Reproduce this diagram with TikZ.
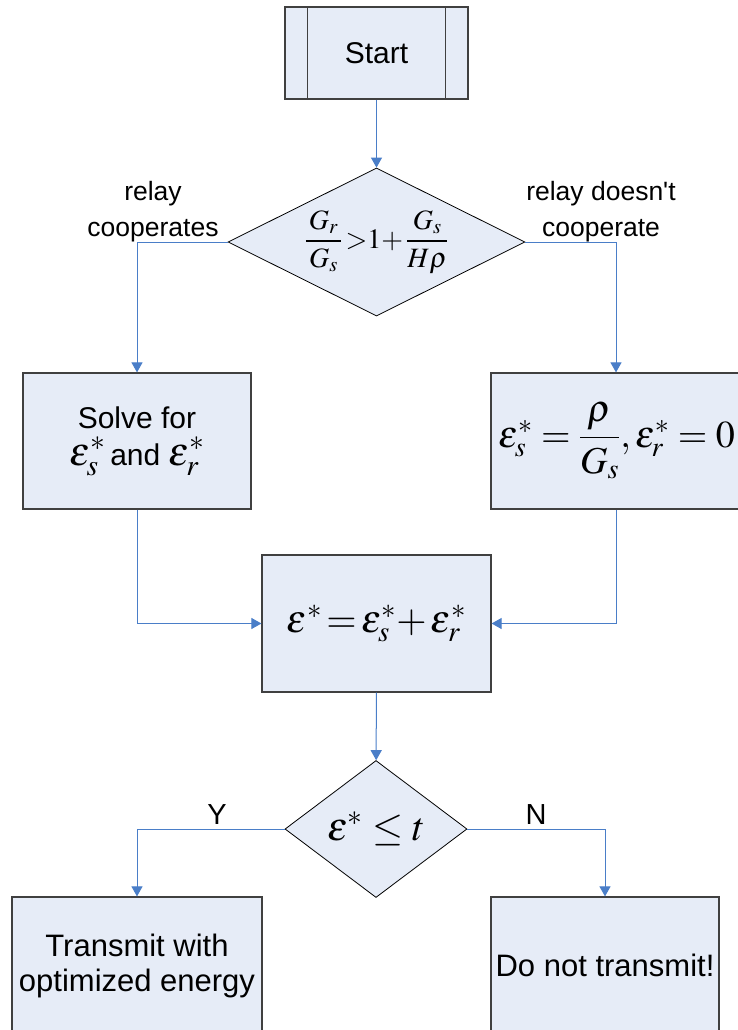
\documentclass[tikz,border=0pt]{standalone}
\usepackage{amsmath}
\usepackage{mathptmx}
\usepackage[no-math]{fontspec}
\setmainfont{Liberation Sans}[Ligatures=TeXOff]
\usetikzlibrary{shapes.geometric,arrows.meta}

\definecolor{boxfill}{HTML}{E6ECF7}
\definecolor{linkblue}{HTML}{4A7EC8}
\definecolor{boxline}{HTML}{404040}

\begin{document}
\begin{tikzpicture}[x=1pt,y=-1pt,
  box/.style={rectangle,draw=boxline,line width=1.2pt,fill=boxfill,inner sep=0pt,
    minimum width=228pt,minimum height=136pt,align=center,font=\fontsize{30}{35}\selectfont},
  test/.style={diamond,aspect=2,draw=black,line width=0.8pt,fill=boxfill,inner sep=0pt},
  link/.style={draw=linkblue,line width=1pt,-{Triangle[length=10pt,width=11pt]}},
  lbl/.style={font=\fontsize{26.5}{36}\selectfont}]
\useasboundingbox (0,0) rectangle (738,1030);
\clip (0,0) rectangle (738,1030);

% start and first test
\node[box,minimum width=183pt,minimum height=92pt] (start) at (376.5,53) {Start};
\draw[boxline,line width=1.2pt] ([xshift=23pt]start.north west) -- ([xshift=23pt]start.south west);
\draw[boxline,line width=1.2pt] ([xshift=-23pt]start.north east) -- ([xshift=-23pt]start.south east);
\node[test,minimum width=297pt,minimum height=148pt,font=\fontsize{28}{32}\selectfont] (coop) at (376.5,242)
  {$\dfrac{\,G_r\,}{\,G_s\,}\,{>}1{+}\,\dfrac{\,G_s\,}{H\rho}$};
\node[lbl,align=center] (yescoop) at (153,212) {relay\\cooperates};
\node[lbl,align=center] (nocoop) at (601,212) {relay doesn't\\cooperate};

% the two cases
\node[box] (solve) at (137,441) {Solve for\\[2pt]{\fontsize{40}{40}\selectfont$\varepsilon_s^*$}\,and {\fontsize{40}{40}\selectfont$\varepsilon_r^*$}};
\node[box,minimum width=250pt] (direct) at (616,441) {};
\node[anchor=west,inner sep=0pt,font=\fontsize{38}{46}\selectfont] (directeq) at (498,441)
  {$\varepsilon_s^*=\dfrac{\rho}{G_s},\varepsilon_r^*=0$};
\node[box,minimum width=229pt,minimum height=137pt,font=\fontsize{39}{48}\selectfont] (total) at (376.5,623.5)
  {$\varepsilon^*\,{=}\,\varepsilon_s^*{+}\,\varepsilon_r^*$};

% second test
\node[test,minimum width=182pt,minimum height=137pt,font=\fontsize{40}{48}\selectfont] (budget) at (376,829)
  {$\varepsilon^*\le t$};
\node[lbl,font=\fontsize{29}{35}\selectfont] (yes) at (217,815) {Y};
\node[lbl,font=\fontsize{29}{35}\selectfont] (no) at (536,815) {N};
\node[box,minimum width=250pt,minimum height=137pt,font=\fontsize{31}{35}\selectfont] (send) at (137,965.5) {Transmit with\\optimized energy};
\node[box,minimum height=137pt,font=\fontsize{31}{35}\selectfont] (nosend) at (605,965.5) {Do not transmit!};

% connectors
\draw[link] (start) -- (coop);
\draw[link] (coop.west) -| (solve.north);
\draw[link] (coop.east) -| (direct.north);
\draw[link] (solve.south) |- (total.west);
\draw[link] (direct.south) |- (total.east);
\draw[link] (total) -- (budget);
\draw[link] (budget.west) -| (send.north);
\draw[link] (budget.east) -| (nosend.north);
\end{tikzpicture}
\end{document}
